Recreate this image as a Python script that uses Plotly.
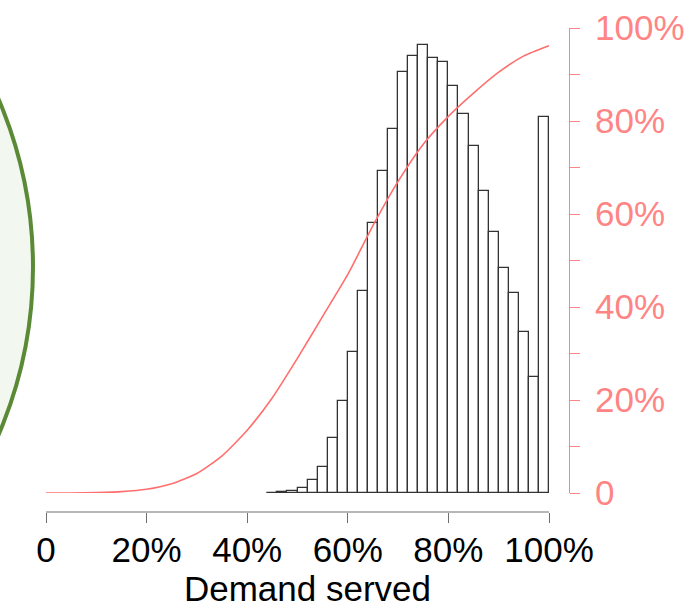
import plotly.graph_objects as go

# Histogram of simulated demand served: 2% bins from 44% to 100%
bin_left = [0.44, 0.46, 0.48, 0.50, 0.52, 0.54, 0.56, 0.58, 0.60, 0.62,
            0.64, 0.66, 0.68, 0.70, 0.72, 0.74, 0.76, 0.78, 0.80, 0.82,
            0.84, 0.86, 0.88, 0.90, 0.92, 0.94, 0.96, 0.98]
bin_counts = [0.3, 0.6, 1.7, 4.7, 13, 26, 55, 92, 141, 202,
              270, 322, 364, 421, 437, 448, 435, 431, 407, 379,
              347, 302, 261, 225, 200, 161, 116, 376]
BIN_WIDTH = 0.02

# Cumulative share curve (right axis)
cdf_x = [0.00, 0.05, 0.10, 0.15, 0.20, 0.25, 0.30, 0.35, 0.40, 0.45, 0.50,
         0.55, 0.60, 0.65, 0.70, 0.75, 0.80, 0.85, 0.90, 0.95, 1.00]
cdf_y = [0.000, 0.000, 0.001, 0.003, 0.008, 0.020, 0.042, 0.080, 0.135, 0.205, 0.290,
         0.380, 0.470, 0.575, 0.670, 0.750, 0.810, 0.860, 0.905, 0.940, 0.962]

x_ticks = [0, 0.2, 0.4, 0.6, 0.8, 1.0]

# ---- page geometry (pixels) ----
W, H = 697, 610
PLOT_L, PLOT_R = 46, 569        # x=0 at PLOT_L, right axis at PLOT_R
PLOT_T, AXIS_Y = 28, 512        # top of y-range, bottom axis line
BASE_Y = 493                    # histogram baseline
X_MAX = 1.0 * (PLOT_R - PLOT_L) / (549 - PLOT_L)   # data range so x=1 lands at 549px

pw, ph = PLOT_R - PLOT_L, AXIS_Y - PLOT_T
def px_to_paper_x(px):
    return (px - PLOT_L) / pw
def px_to_paper_y(py):
    return (AXIS_Y - py) / ph

y_dom0 = px_to_paper_y(BASE_Y)

PINK = "#ff8585"
CURVE = "#ff6f6f"
FONT = "Liberation Sans, Arial, sans-serif"

fig = go.Figure()

fig.add_trace(go.Bar(
    x=[b + BIN_WIDTH / 2 for b in bin_left],
    y=bin_counts,
    width=BIN_WIDTH,
    marker=dict(color="white", line=dict(color="#333333", width=1.3)),
    yaxis="y",
    showlegend=False,
    hoverinfo="skip",
))

fig.add_trace(go.Scatter(
    x=cdf_x, y=cdf_y,
    mode="lines",
    line=dict(color=CURVE, width=1.6, shape="spline", smoothing=0.6),
    yaxis="y2",
    showlegend=False,
    hoverinfo="skip",
))

# decorative circle partly off the left edge
cx, cy, r = -393, 267, 426
fig.add_shape(
    type="circle", xref="paper", yref="paper",
    x0=px_to_paper_x(cx - r), x1=px_to_paper_x(cx + r),
    y0=px_to_paper_y(cy + r), y1=px_to_paper_y(cy - r),
    line=dict(color="#5a8a36", width=4),
    fillcolor="#f2f7ef",
    layer="below",
)

# bottom axis line spanning 0..100% only
fig.add_shape(
    type="line", xref="x", yref="paper",
    x0=0, x1=1, y0=0, y1=0,
    line=dict(color="#707070", width=1),
)

fig.update_layout(
    width=W, height=H, autosize=False,
    margin=dict(l=PLOT_L, r=W - PLOT_R, t=PLOT_T, b=H - AXIS_Y, pad=0,
                autoexpand=False),
    paper_bgcolor="white", plot_bgcolor="white",
    font=dict(family=FONT, size=35, color="black"),
    bargap=0,
    xaxis=dict(
        range=[0, X_MAX], anchor="free", position=0, automargin=False,
        showgrid=False, zeroline=False, showline=False,
        tickmode="array", tickvals=x_ticks,
        tickformat=".0%", labelalias={"0%": "0"},
        ticks="outside", ticklen=10, tickcolor="#707070", tickwidth=1,
        ticklabelstandoff=-3,
        tickfont=dict(size=35, color="black"),
        title=dict(text="Demand served", font=dict(size=35, color="black"), standoff=0),
    ),
    yaxis=dict(
        range=[0, BASE_Y - PLOT_T], domain=[y_dom0, 1],
        visible=False, showgrid=False, zeroline=False,
    ),
    yaxis2=dict(
        range=[0, 1], overlaying="y", side="right", anchor="x", automargin=False,
        showgrid=False, zeroline=False,
        showline=True, linecolor=PINK, linewidth=1.2,
        tickmode="linear", tick0=0, dtick=0.2,
        tickformat=".0%", labelalias={"0%": "0"},
        ticks="outside", ticklen=10, tickcolor=PINK, tickwidth=1.2,
        ticklabelstandoff=8,
        minor=dict(dtick=0.1, tick0=0, ticks="outside", ticklen=10,
                   tickcolor=PINK, tickwidth=1.2, showgrid=False),
        tickfont=dict(size=35, color=PINK),
    ),
)

fig.write_html("out.html")
